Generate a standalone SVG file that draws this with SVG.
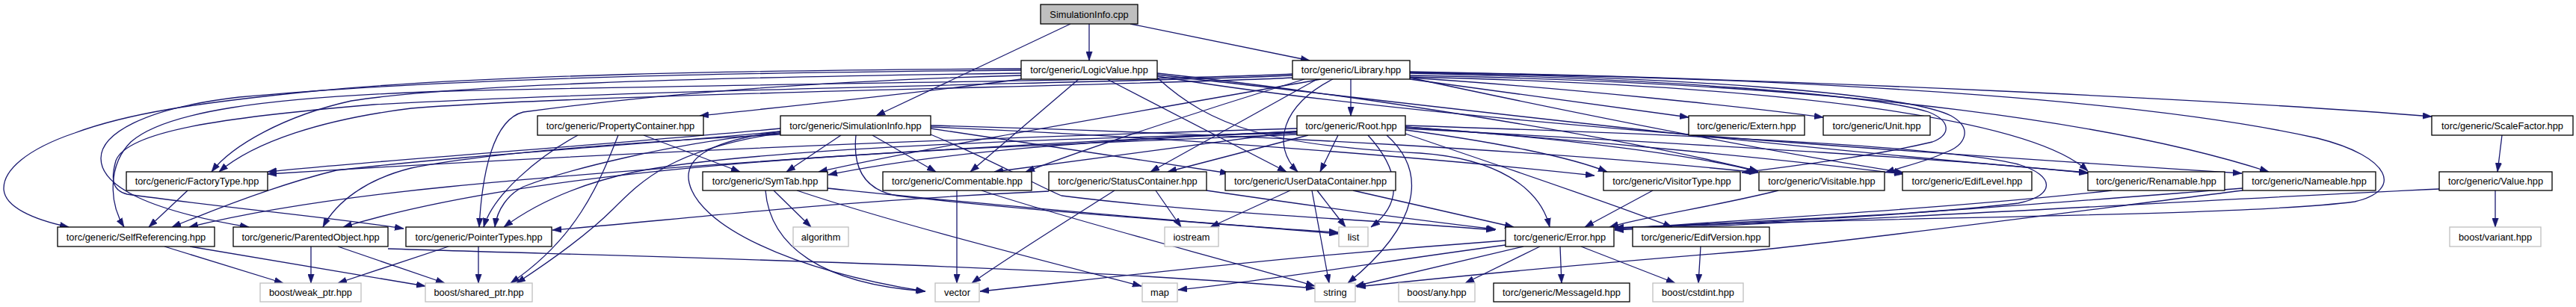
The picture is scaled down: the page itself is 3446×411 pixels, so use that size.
<svg xmlns="http://www.w3.org/2000/svg" width="3446" height="411" viewBox="0 0 3446 411">
<style>
.nd rect{fill:#fff;stroke:#000;stroke-width:1.3}
.ext rect{fill:#fff;stroke:#bfbfbf;stroke-width:1.3}
.root rect{fill:#bfbfbf;stroke:#000;stroke-width:1.3}
text{font-family:"Liberation Sans",Arial,Helvetica,sans-serif;font-size:12.8px;text-anchor:middle;fill:#000}
#edges path{fill:none;stroke:#191970;stroke-width:1.3;marker-end:url(#arr)}
</style>
<defs>
<marker id="arr" viewBox="0 0 10 7" refX="10" refY="3.5" markerWidth="12" markerHeight="9" markerUnits="userSpaceOnUse" orient="auto">
<path d="M0,0 L10,3.5 L0,7 z" fill="#191970" stroke="#191970" stroke-width="0.5"/>
</marker>
</defs>
<rect width="3446" height="411" fill="#fff"/>
<g id="edges">
<path d="M1432,32 L1172,155"/>
<path d="M1457,32 L1457,81"/>
<path d="M1512,32 L1752,81"/>
<path d="M1366,92 C1000,94 650,100 420,122 C260,138 170,152 100,178 C35,200 5,228 5,252 C5,277 45,294 92,304"/>
<path d="M1366,94 C1000,97 600,104 320,130 C190,145 135,180 135,212 C135,250 200,282 333,304"/>
<path d="M1366,98 C900,104 600,115 470,135 C380,155 310,195 283,230"/>
<path d="M1366,101 C1050,110 850,130 700,150 C660,160 645,230 641,304"/>
<path d="M1366,106 C1200,128 1000,148 936,155"/>
<path d="M1443,106 L1298,230"/>
<path d="M1481,106 L1721,230"/>
<path d="M1548,98 C1800,125 2150,180 2352,229"/>
<path d="M1548,100 C1900,140 2300,190 2793,231"/>
<path d="M1548,102 C1900,160 2500,200 2999,232"/>
<path d="M1548,104 C1620,170 1700,195 1900,205 C2000,212 2060,250 2073,304"/>
<path d="M1807,106 L1807,155"/>
<path d="M1886,106 L2259,157"/>
<path d="M1886,104 C2100,118 2350,145 2439,157"/>
<path d="M1886,96 C2400,105 3000,135 3253,156"/>
<path d="M1783,106 C1715,140 1700,195 1736,230"/>
<path d="M1762,106 L1539,230"/>
<path d="M1745,106 C1600,150 1450,200 1372,230"/>
<path d="M1767,106 C1550,145 1250,195 1095,230"/>
<path d="M1729,99 C1550,108 1000,112 600,122 C350,130 220,150 175,190 C145,220 145,270 166,304"/>
<path d="M1729,101 C1550,110 900,118 500,140 C300,157 170,175 155,215 C148,240 150,255 170,260 C300,278 450,292 540,306"/>
<path d="M1729,104 C1550,114 800,125 550,145 C430,160 340,190 293,230"/>
<path d="M1886,98 C2200,105 2500,125 2580,150 C2610,162 2610,180 2585,190 C2500,210 2400,222 2330,231"/>
<path d="M1886,97 C2250,103 2550,125 2610,155 C2640,172 2630,195 2600,205 C2580,215 2550,222 2522,231"/>
<path d="M1886,104 C2100,150 2350,200 2546,231"/>
<path d="M1886,103 C2400,115 2720,160 2793,229"/>
<path d="M1886,101 C2500,112 2850,170 3035,230"/>
<path d="M1886,97 C2500,105 2900,140 3100,185 C3200,210 3215,255 3150,270 C3000,290 2500,290 2160,305"/>
<path d="M1880,168 C2250,180 2600,195 2700,220 C2750,235 2750,262 2700,272 C2550,290 2350,295 2160,306"/>
<path d="M1735,176 C1300,195 850,225 600,250 C450,265 330,285 253,304"/>
<path d="M1735,172 C1300,185 800,205 358,233"/>
<path d="M1735,180 C1250,200 750,215 459,304"/>
<path d="M1735,178 C1400,185 1000,200 850,230 C780,245 720,270 674,304"/>
<path d="M1735,176 C1450,188 1250,205 1108,234"/>
<path d="M1735,176 L1330,230"/>
<path d="M1750,181 L1562,230"/>
<path d="M1790,181 L1766,230"/>
<path d="M1830,181 C1870,225 1880,270 1834,304"/>
<path d="M1855,181 C1910,230 1900,300 1803,379"/>
<path d="M1880,174 C2000,190 2100,210 2150,230"/>
<path d="M1880,170 C2100,185 2280,210 2352,230"/>
<path d="M1880,170 C2150,190 2400,215 2546,233"/>
<path d="M1880,172 C2300,195 2650,215 2793,232"/>
<path d="M1880,179 C2000,220 2150,270 2237,304"/>
<path d="M1125,181 L1052,230"/>
<path d="M1167,181 L1252,230"/>
<path d="M1044,172 C800,195 500,215 358,230"/>
<path d="M1044,176 C850,195 650,205 450,228 C380,245 300,275 230,304"/>
<path d="M1044,178 C900,190 750,230 700,250 C680,260 665,280 662,304"/>
<path d="M1044,180 C850,190 650,205 550,225 C490,240 450,270 432,304"/>
<path d="M1044,178 C900,200 860,240 820,280 C780,320 720,360 691,379"/>
<path d="M1044,176 C940,190 915,215 922,245 C935,300 1050,360 1237,390"/>
<path d="M1245,172 L1644,232"/>
<path d="M1145,181 C1140,230 1160,255 1200,262 C1400,285 1650,300 1790,313"/>
<path d="M1245,180 C1340,220 1380,245 1420,262 C1600,285 1850,295 2000,308"/>
<path d="M1245,170 C1600,185 1950,215 2133,235"/>
<path d="M1245,168 C1700,180 2100,205 2352,231"/>
<path d="M773,181 C720,210 660,260 647,304"/>
<path d="M827,181 C800,250 770,320 683,379"/>
<path d="M861,181 L990,230"/>
<path d="M251,255 L199,304"/>
<path d="M1035,255 L1085,304"/>
<path d="M1066,255 C1200,300 1400,350 1527,383"/>
<path d="M1024,255 C1030,330 1100,380 1238,390"/>
<path d="M1107,252 C1200,262 1600,300 1790,311"/>
<path d="M1280,255 L1280,379"/>
<path d="M1313,255 C1450,300 1650,350 1759,383"/>
<path d="M1491,255 C1420,300 1340,350 1300,379"/>
<path d="M1546,255 L1580,304"/>
<path d="M1403,256 C1100,270 900,295 739,308"/>
<path d="M1614,255 C1750,275 1900,295 2001,307"/>
<path d="M1726,255 L1619,304"/>
<path d="M1762,255 L1800,304"/>
<path d="M1755,255 L1778,379"/>
<path d="M1810,255 L2025,304"/>
<path d="M2211,255 L2120,304"/>
<path d="M2379,255 C2300,275 2200,290 2153,304"/>
<path d="M2825,255 C2600,280 2300,296 2160,307"/>
<path d="M3000,255 C2800,280 2500,320 2340,336 C2100,355 1900,375 1815,384"/>
<path d="M3000,252 C2700,275 2400,300 2160,305"/>
<path d="M3263,253 C2900,270 2500,295 2160,308"/>
<path d="M2014,322 C1700,345 1500,370 1311,390"/>
<path d="M2014,328 C1850,350 1700,375 1576,388"/>
<path d="M2038,330 C1950,350 1870,370 1813,383"/>
<path d="M2060,330 L1960,379"/>
<path d="M2087,330 L2089,379"/>
<path d="M2115,330 L2241,379"/>
<path d="M2275,330 L2272,379"/>
<path d="M220,330 L379,379"/>
<path d="M254,330 L569,383"/>
<path d="M416,330 L416,379"/>
<path d="M452,330 L595,379"/>
<path d="M519,333 C900,345 1400,355 1759,386"/>
<path d="M600,330 L452,379"/>
<path d="M640,330 L640,379"/>
<path d="M3347,181 L3341,230"/>
<path d="M3338,255 L3338,304"/>
</g>
<g id="n0" class="root"><rect x="1392" y="6" width="130" height="26"/><text x="1457" y="23.5">SimulationInfo.cpp</text></g>
<g id="n1" class="nd"><rect x="1366" y="81" width="182" height="25"/><text x="1457" y="98">torc/generic/LogicValue.hpp</text></g>
<g id="n2" class="nd"><rect x="1729" y="81" width="157" height="25"/><text x="1807.5" y="98">torc/generic/Library.hpp</text></g>
<g id="n3" class="nd"><rect x="719" y="155" width="222" height="26"/><text x="830" y="172.5">torc/generic/PropertyContainer.hpp</text></g>
<g id="n4" class="nd"><rect x="1044" y="155" width="201" height="26"/><text x="1144.5" y="172.5">torc/generic/SimulationInfo.hpp</text></g>
<g id="n5" class="nd"><rect x="1735" y="155" width="145" height="26"/><text x="1807.5" y="172.5">torc/generic/Root.hpp</text></g>
<g id="n6" class="nd"><rect x="2259" y="155" width="155" height="26"/><text x="2336.5" y="172.5">torc/generic/Extern.hpp</text></g>
<g id="n7" class="nd"><rect x="2439" y="155" width="143" height="26"/><text x="2510.5" y="172.5">torc/generic/Unit.hpp</text></g>
<g id="n8" class="nd"><rect x="3253" y="155" width="189" height="26"/><text x="3347.5" y="172.5">torc/generic/ScaleFactor.hpp</text></g>
<g id="n9" class="nd"><rect x="169" y="230" width="189" height="25"/><text x="263.5" y="247">torc/generic/FactoryType.hpp</text></g>
<g id="n10" class="nd"><rect x="940" y="230" width="167" height="25"/><text x="1023.5" y="247">torc/generic/SymTab.hpp</text></g>
<g id="n11" class="nd"><rect x="1181" y="230" width="199" height="25"/><text x="1280.5" y="247">torc/generic/Commentable.hpp</text></g>
<g id="n12" class="nd"><rect x="1403" y="230" width="211" height="25"/><text x="1508.5" y="247">torc/generic/StatusContainer.hpp</text></g>
<g id="n13" class="nd"><rect x="1639" y="230" width="228" height="25"/><text x="1753" y="247">torc/generic/UserDataContainer.hpp</text></g>
<g id="n14" class="nd"><rect x="2145" y="230" width="183" height="25"/><text x="2236.5" y="247">torc/generic/VisitorType.hpp</text></g>
<g id="n15" class="nd"><rect x="2353" y="230" width="168" height="25"/><text x="2437" y="247">torc/generic/Visitable.hpp</text></g>
<g id="n16" class="nd"><rect x="2545" y="230" width="173" height="25"/><text x="2631.5" y="247">torc/generic/EdifLevel.hpp</text></g>
<g id="n17" class="nd"><rect x="2793" y="230" width="183" height="25"/><text x="2884.5" y="247">torc/generic/Renamable.hpp</text></g>
<g id="n18" class="nd"><rect x="3000" y="230" width="178" height="25"/><text x="3089" y="247">torc/generic/Nameable.hpp</text></g>
<g id="n19" class="nd"><rect x="3263" y="230" width="151" height="25"/><text x="3338.5" y="247">torc/generic/Value.hpp</text></g>
<g id="n20" class="nd"><rect x="77" y="304" width="210" height="26"/><text x="182" y="321.5">torc/generic/SelfReferencing.hpp</text></g>
<g id="n21" class="nd"><rect x="312" y="304" width="207" height="26"/><text x="415.5" y="321.5">torc/generic/ParentedObject.hpp</text></g>
<g id="n22" class="nd"><rect x="543" y="304" width="195" height="26"/><text x="640.5" y="321.5">torc/generic/PointerTypes.hpp</text></g>
<g id="n23" class="ext"><rect x="1061" y="304" width="74" height="26"/><text x="1098" y="321.5">algorithm</text></g>
<g id="n24" class="ext"><rect x="1558" y="304" width="72" height="26"/><text x="1594" y="321.5">iostream</text></g>
<g id="n25" class="ext"><rect x="1791" y="304" width="39" height="26"/><text x="1810.5" y="321.5">list</text></g>
<g id="n26" class="nd"><rect x="2014" y="304" width="145" height="26"/><text x="2086.5" y="321.5">torc/generic/Error.hpp</text></g>
<g id="n27" class="nd"><rect x="2184" y="304" width="183" height="26"/><text x="2275.5" y="321.5">torc/generic/EdifVersion.hpp</text></g>
<g id="n28" class="ext"><rect x="3277" y="304" width="122" height="26"/><text x="3338" y="321.5">boost/variant.hpp</text></g>
<g id="n29" class="ext"><rect x="348" y="379" width="135" height="25"/><text x="415.5" y="396">boost/weak_ptr.hpp</text></g>
<g id="n30" class="ext"><rect x="569" y="379" width="143" height="25"/><text x="640.5" y="396">boost/shared_ptr.hpp</text></g>
<g id="n31" class="ext"><rect x="1251" y="379" width="59" height="25"/><text x="1280.5" y="396">vector</text></g>
<g id="n32" class="ext"><rect x="1528" y="379" width="47" height="25"/><text x="1551.5" y="396">map</text></g>
<g id="n33" class="ext"><rect x="1759" y="379" width="54" height="25"/><text x="1786" y="396">string</text></g>
<g id="n34" class="ext"><rect x="1871" y="379" width="102" height="25"/><text x="1922" y="396">boost/any.hpp</text></g>
<g id="n35" class="nd"><rect x="1998" y="379" width="182" height="25"/><text x="2089" y="396">torc/generic/MessageId.hpp</text></g>
<g id="n36" class="ext"><rect x="2211" y="379" width="121" height="25"/><text x="2271.5" y="396">boost/cstdint.hpp</text></g>
</svg>
